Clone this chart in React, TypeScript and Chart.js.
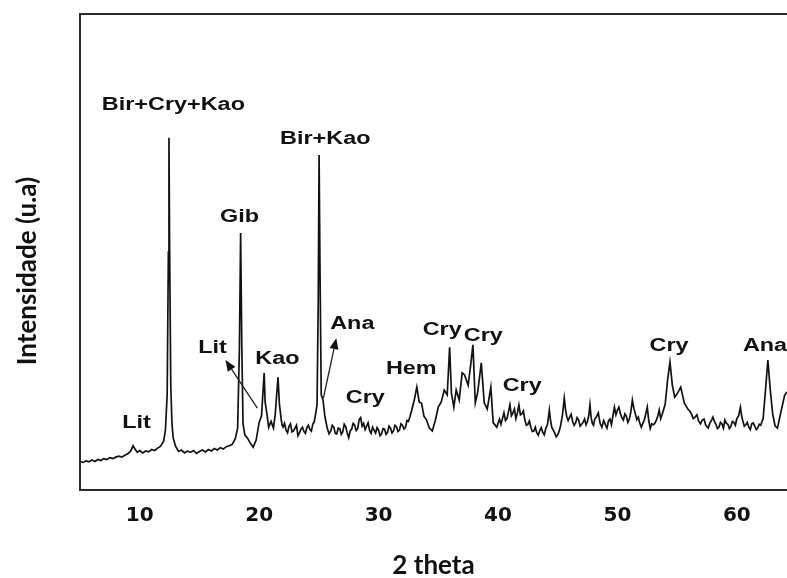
import React, { useEffect, useRef } from "react";
import { Chart, registerables } from "chart.js";

Chart.register(...registerables);

const twoTheta = [
  5.0, 5.25, 5.5, 5.75, 6.0, 6.25, 6.5, 6.75, 7.0, 7.25, 7.5, 7.75, 8.0, 8.25, 8.5, 8.75,
  9.0, 9.25, 9.45, 9.6, 9.8, 10.0, 10.25, 10.5, 10.75, 11.0, 11.25, 11.5, 11.75, 12.0, 12.15,
  12.3, 12.4, 12.45, 12.5, 12.6, 12.7, 12.8, 13.0, 13.25, 13.5, 13.75, 14.0, 14.25, 14.5,
  14.75, 15.0, 15.25, 15.5, 15.75, 16.0, 16.25, 16.5, 16.75, 17.0, 17.25, 17.5, 17.75, 18.0,
  18.2, 18.35, 18.45, 18.55, 18.65, 18.8, 19.0, 19.25, 19.5, 19.75, 20.0, 20.2, 20.42, 20.5,
  20.65, 20.8, 21.0, 21.2, 21.35, 21.58, 21.7, 21.85, 21.925, 22.0, 22.125, 22.25, 22.375, 22.5,
  22.625, 22.75, 22.875, 23.0, 23.125, 23.25, 23.375, 23.5, 23.625, 23.75, 23.875, 24.0,
  24.125, 24.25, 24.375, 24.5, 24.6, 24.7, 24.85, 24.95, 25.02, 25.1, 25.2, 25.35, 25.5,
  25.7, 25.85, 26.0, 26.125, 26.25, 26.375, 26.5, 26.625, 26.75, 26.875,
  27.0, 27.125, 27.25, 27.375, 27.5, 27.625, 27.75, 27.875, 28.0, 28.125,
  28.25, 28.375, 28.5, 28.625, 28.75, 28.875, 29.0, 29.125, 29.25, 29.375,
  29.5, 29.625, 29.75, 29.875, 30.0, 30.125, 30.25, 30.375, 30.5, 30.625,
  30.75, 30.875, 31.0, 31.125, 31.25, 31.375, 31.5, 31.625, 31.75, 31.875,
  32.0, 32.125, 32.25, 32.375, 32.5, 32.625, 32.75,
  33.0, 33.2, 33.4, 33.6, 33.8, 34.0, 34.25, 34.5, 34.75, 35.0, 35.25, 35.5, 35.75, 35.95,
  36.1, 36.3, 36.5, 36.75, 37.0, 37.2, 37.5, 37.75, 37.9, 38.1, 38.3, 38.6, 38.85, 39.1,
  39.4, 39.6, 39.9,
  40.125, 40.25, 40.375, 40.5, 40.625, 40.75, 40.875, 41.0, 41.125, 41.25,
  41.375, 41.5, 41.625, 41.75, 41.875, 42.0, 42.125, 42.25, 42.375, 42.5,
  42.625, 42.75, 42.875, 43.0, 43.125, 43.25, 43.375, 43.5, 43.625, 43.75,
  43.875, 44.0, 44.15, 44.3, 44.4, 44.5, 44.625, 44.75, 44.875, 45.0,
  45.125, 45.25, 45.4, 45.55, 45.65, 45.75, 45.875, 46.0, 46.125, 46.25,
  46.375, 46.5, 46.625, 46.75, 46.875, 47.0, 47.125, 47.25, 47.375, 47.5,
  47.6, 47.7, 47.8, 47.9, 48.0, 48.1, 48.25, 48.4, 48.55, 48.7,
  48.85, 49.0, 49.125, 49.25, 49.375, 49.5, 49.625, 49.75, 49.875, 50.0,
  50.125, 50.25, 50.375, 50.5, 50.625, 50.75, 50.875, 51.0, 51.125, 51.25,
  51.375, 51.5, 51.625, 51.75, 51.875, 52.0, 52.125, 52.25, 52.375, 52.5,
  52.625, 52.75, 52.875, 53.0, 53.125, 53.25, 53.375, 53.5, 53.625, 53.75,
  54.0, 54.2, 54.4, 54.6, 54.8, 55.0, 55.3, 55.6,
  55.9, 56.05, 56.2, 56.35, 56.5, 56.65, 56.8, 56.95, 57.1, 57.25,
  57.4, 57.6, 57.75, 57.875, 58.0, 58.125, 58.25, 58.375, 58.5, 58.625,
  58.75, 58.875, 59.0, 59.125, 59.25, 59.375, 59.5, 59.625, 59.75, 59.875,
  60.0, 60.15, 60.3, 60.4, 60.5, 60.625, 60.75, 60.875, 61.0, 61.125,
  61.25, 61.375, 61.5, 61.625, 61.75, 61.875, 62.0,
  62.2, 62.4, 62.6, 62.8, 63.0, 63.2, 63.4, 63.7, 64.0, 64.2,
];

const intensity = [
  6.0, 5.8, 6.1, 5.9, 6.3, 6.0, 6.4, 6.2, 6.6, 6.4, 6.8, 6.6, 6.9, 7.1, 6.9, 7.3,
  7.6, 8.2, 9.3, 8.6, 7.9, 8.3, 7.8, 8.2, 8.0, 8.5, 8.3, 8.8, 9.2, 10.2, 12.5,
  20.0, 50.0, 74.0, 52.0, 22.0, 14.0, 11.0, 9.2, 8.1, 8.4, 7.8, 8.2, 7.9, 8.3,
  7.7, 8.1, 8.4, 8.0, 8.5, 8.2, 8.7, 8.4, 8.9, 8.6, 9.1, 9.3, 9.6, 10.8,
  13.0, 30.0, 54.0, 30.0, 14.0, 11.6, 11.0, 9.9, 9.0, 10.5, 14.2, 15.6, 24.6, 18.5,
  16.0, 13.2, 14.4, 13.0, 16.0, 23.7, 18.0, 14.8, 13.6, 13.2, 14.0, 12.6, 12.0, 13.4,
  13.9, 12.2, 12.4, 13.0, 13.6, 11.4, 12.0, 12.8, 13.2, 12.3, 11.9, 13.1,
  13.6, 12.7, 12.4, 13.9, 14.2, 15.5, 18.0, 40.0, 70.4, 45.0, 20.0, 18.9, 15.5,
  13.0, 11.8, 12.4, 13.6, 13.2, 11.9, 11.8, 13.0, 12.9, 11.7,
  12.2, 13.8, 13.3, 12.0, 11.0, 12.4, 12.8, 14.0, 13.6, 12.5,
  12.9, 14.8, 15.2, 13.4, 14.0, 12.7, 13.4, 14.1, 12.5, 11.9,
  13.2, 12.6, 12.0, 13.1, 12.6, 11.4, 11.8, 12.9, 12.8, 11.7,
  12.1, 13.4, 13.0, 12.0, 12.4, 13.6, 13.3, 12.3, 12.6, 13.9,
  13.6, 12.8, 13.1, 14.6, 14.4, 15.4, 16.5,
  19.0, 21.6, 18.5, 18.2, 15.5, 14.8, 13.0, 12.4, 14.6, 17.4, 18.5, 21.0, 20.0, 30.0,
  20.4, 17.4, 21.0, 18.9, 24.6, 24.2, 22.0, 27.0, 30.5, 18.3, 20.5, 26.7, 18.3, 17.0,
  21.6, 14.1, 13.2,
  14.9, 13.8, 15.0, 16.2, 14.6, 15.0, 16.4, 17.9, 15.6, 16.2,
  17.0, 15.0, 16.2, 17.9, 15.8, 16.0, 16.6, 14.7, 13.6, 13.8,
  14.5, 13.2, 12.3, 12.4, 13.2, 12.0, 11.5, 12.5, 13.1, 12.1,
  11.6, 12.9, 13.8, 16.8, 14.6, 13.2, 12.6, 12.0, 11.2, 11.6,
  12.4, 13.6, 15.8, 19.3, 17.0, 15.5, 14.6, 15.3, 15.9, 14.4,
  13.6, 14.1, 15.2, 14.7, 13.4, 13.8, 14.2, 14.9, 13.7, 14.5,
  15.6, 17.9, 15.2, 14.0, 13.6, 14.9, 15.4, 16.2, 14.0, 13.2,
  14.6, 13.7, 13.0, 14.5, 14.9, 13.7, 15.6, 17.4, 15.8, 16.8,
  17.4, 16.0, 15.2, 14.7, 16.0, 15.5, 14.2, 14.9, 16.4, 18.9,
  17.2, 16.0, 14.8, 15.3, 14.0, 13.2, 14.0, 14.7, 16.0, 17.4,
  14.6, 12.9, 13.9, 13.7, 14.0, 14.6, 15.5, 16.8, 15.0, 15.9,
  18.0, 23.1, 26.9, 22.0, 19.5, 20.2, 21.6, 18.3,
  17.0, 16.6, 16.0, 15.0, 15.3, 15.8, 14.5, 13.9, 14.7, 14.9,
  13.6, 13.0, 14.1, 14.6, 15.3, 14.4, 13.8, 12.9, 13.2, 14.2,
  13.9, 13.0, 14.7, 14.0, 13.8, 12.9, 13.4, 14.4, 14.2, 13.6,
  15.0, 15.6, 17.4, 15.6, 14.5, 13.4, 13.7, 14.2, 13.2, 12.7,
  13.9, 14.1, 13.4, 12.7, 13.0, 13.8, 13.6,
  15.0, 21.0, 27.3, 21.0, 16.0, 13.5, 13.0, 16.5, 19.9, 20.6,
];

const tickValues = [10, 20, 30, 40, 50, 60];

// peak annotations (text centre in data coordinates)
const peakLabels = ["Lit", "Bir+Cry+Kao", "Gib", "Bir+Kao", "Lit", "Kao", "Ana", "Cry", "Hem", "Cry", "Cry", "Cry", "Cry", "Ana"];
const labelTheta = [9.73, 12.82, 18.35, 25.54, 16.09, 21.53, 27.8, 28.89, 32.74, 35.33, 38.77, 42.03, 54.33, 62.36];
const labelIntensity = [14.1, 80.9, 57.4, 73.7, 29.8, 27.5, 34.9, 19.3, 25.4, 33.6, 32.4, 21.8, 30.3, 30.3];

// arrows (tail -> head) in data coordinates
const arrowFromTheta = [19.85, 25.38];
const arrowFromIntensity = [17.2, 19.3];
const arrowToTheta = [17.18, 26.46];
const arrowToIntensity = [27.3, 31.9];

const overlayPlugin = {
  id: "overlay",
  afterDraw(chart: any) {
    const { ctx, chartArea } = chart;
    const xs = chart.scales.x;
    const ys = chart.scales.y;
    ctx.save();
    // top frame line
    ctx.strokeStyle = "#2a2a2a";
    ctx.lineWidth = 2;
    ctx.beginPath();
    ctx.moveTo(chartArea.left - 1, chartArea.top);
    ctx.lineTo(chartArea.right, chartArea.top);
    ctx.stroke();

    // peak labels
    ctx.fillStyle = "#111";
    ctx.font = 'bold 18px "Liberation Sans", Arial, sans-serif';
    ctx.textAlign = "center";
    ctx.textBaseline = "middle";
    peakLabels.forEach((t, i) => {
      const px = xs.getPixelForValue(labelTheta[i]);
      const py = ys.getPixelForValue(labelIntensity[i]);
      ctx.save();
      ctx.translate(px, py);
      ctx.scale(1.3, 1);
      ctx.fillText(t, 0, 0);
      ctx.restore();
    });

    // arrows
    ctx.strokeStyle = "#222";
    ctx.fillStyle = "#111";
    ctx.lineWidth = 1.3;
    arrowFromTheta.forEach((_, i) => {
      const x1 = xs.getPixelForValue(arrowFromTheta[i]);
      const y1 = ys.getPixelForValue(arrowFromIntensity[i]);
      const x2 = xs.getPixelForValue(arrowToTheta[i]);
      const y2 = ys.getPixelForValue(arrowToIntensity[i]);
      const ang = Math.atan2(y2 - y1, x2 - x1);
      const len = 11;
      const hw = 4.5;
      const bx = x2 - len * Math.cos(ang);
      const by = y2 - len * Math.sin(ang);
      ctx.beginPath();
      ctx.moveTo(x1, y1);
      ctx.lineTo(bx, by);
      ctx.stroke();
      ctx.beginPath();
      ctx.moveTo(x2, y2);
      ctx.lineTo(bx + hw * Math.sin(ang), by - hw * Math.cos(ang));
      ctx.lineTo(bx - hw * Math.sin(ang), by + hw * Math.cos(ang));
      ctx.closePath();
      ctx.fill();
    });

    // axis titles
    ctx.fillStyle = "#111";
    ctx.font = 'bold 26px Lato, "Open Sans", sans-serif';
    ctx.textAlign = "center";
    ctx.textBaseline = "middle";
    ctx.fillText("2 theta", (chartArea.left + chartArea.right) / 2, 566);
    ctx.save();
    ctx.translate(28, 271);
    ctx.rotate(-Math.PI / 2);
    ctx.fillText("Intensidade (u.a)", 0, 0);
    ctx.restore();
    ctx.restore();
  },
};

export default function App() {
  const canvasRef = useRef<HTMLCanvasElement | null>(null);

  useEffect(() => {
    const canvas = canvasRef.current;
    if (!canvas) return;
    const points = twoTheta.map((t, i) => ({ x: t, y: intensity[i] }));
    const chart = new Chart(canvas, {
      type: "line",
      data: {
        datasets: [
          {
            label: "XRD",
            data: points,
            borderColor: "#111",
            borderWidth: 1.7,
            pointRadius: 0,
            tension: 0,
            fill: false,
          },
        ],
      },
      options: {
        animation: false,
        responsive: false,
        devicePixelRatio: 1,
        layout: { padding: { top: 14, right: 0, left: 0, bottom: 0 } },
        plugins: { legend: { display: false }, tooltip: { enabled: false } },
        scales: {
          x: {
            type: "linear",
            min: 5,
            max: 64.2,
            grid: { display: false, drawTicks: false },
            border: { display: true, color: "#2a2a2a", width: 2 },
            afterBuildTicks: (s: any) => {
              s.ticks = tickValues.map((v) => ({ value: v }));
            },
            afterFit: (s: any) => {
              s.height = 88;
            },
            ticks: {
              color: "#111",
              padding: 14,
              maxRotation: 0,
              autoSkip: false,
              font: { family: '"DejaVu Sans", sans-serif', weight: "bold", size: 20 },
            },
          },
          y: {
            type: "linear",
            min: 0,
            max: 100,
            grid: { display: false, drawTicks: false },
            border: { display: true, color: "#2a2a2a", width: 2 },
            ticks: { display: false },
            afterFit: (s: any) => {
              s.width = 80;
            },
          },
        },
      },
      plugins: [overlayPlugin],
    });
    return () => chart.destroy();
  }, []);

  return (
    <canvas
      ref={canvasRef}
      width={787}
      height={578}
      style={{ position: "absolute", left: 0, top: 0, display: "block", width: 787, height: 578 }}
    />
  );
}
